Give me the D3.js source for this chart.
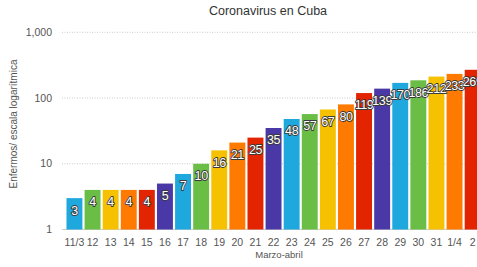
<!DOCTYPE html>
<meta charset="utf-8">
<style>
    body { margin: 0; background: #fff; }
    svg { display: block; font-family: "Liberation Sans", Arial, sans-serif; }
    .grid line { stroke: #ccc; }
    .barLabel { fill: #fff; stroke: #3a3a3a; stroke-width: 1.8px; paint-order: stroke; stroke-linejoin: round; letter-spacing: -0.4px; }
</style>
<svg width="477" height="267"></svg>
<script src="https://cdn.jsdelivr.net/npm/d3@7"></script>
<script>
    // datos
    var dias = ["11/3", "12", "13", "14", "15", "16", "17", "18", "19", "20", "21", "22",
        "23", "24", "25", "26", "27", "28", "29", "30", "31", "1/4", "2"];
    var enfermos = [3, 4, 4, 4, 4, 5, 7, 10, 16, 21, 25, 35, 48, 57, 67, 80, 119, 139, 170, 186, 212, 233, 269];
    var colores = ["#1fa8dd", "#6abd45", "#f5c100", "#fe7a00", "#e22400", "#4a38a6"];
    var yTicks = [1, 10, 100, 1000];

    var svg = d3.select("svg");

    var x = d3.scaleBand()
            .domain(dias)
            .range([65.4, 65.4 + dias.length * 18.1])
            .paddingInner(0.12)
            .paddingOuter(0.06);

    var y = d3.scaleLog()
            .domain([1, 1000])
            .range([229.5, 32.3]);

    // lineas de cuadricula
    svg.append("g")
            .attr("class", "grid")
            .selectAll("line")
            .data(yTicks)
            .enter().append("line")
            .attr("x1", 62)
            .attr("x2", 477)
            .attr("y1", function (d) { return y(d); })
            .attr("y2", function (d) { return y(d); })
            .style("stroke-dasharray", function (d) { return d == 1 ? null : "1,1.5"; });

    svg.append("g")
            .selectAll("text")
            .data(yTicks)
            .enter().append("text")
            .attr("x", 52)
            .attr("y", function (d) { return y(d); })
            .attr("dy", "0.35em")
            .attr("text-anchor", "end")
            .style("font-size", "10.5px")
            .style("fill", "#555")
            .text(d3.format(","));

    svg.append("g")
            .selectAll("rect")
            .data(enfermos)
            .enter().append("rect")
            .attr("x", function (d, i) { return x(dias[i]); })
            .attr("y", function (d) { return y(d); })
            .attr("width", x.bandwidth())
            .attr("height", function (d) { return y(1) - y(d); })
            .attr("fill", function (d, i) { return colores[i % colores.length]; });

    svg.append("g")
            .selectAll("text")
            .data(enfermos)
            .enter().append("text")
            .attr("class", "barLabel")
            .attr("x", function (d, i) { return x(dias[i]) + x.bandwidth() / 2; })
            .attr("y", function (d) { return y(d) + 12; })
            .attr("dy", "0.35em")
            .attr("text-anchor", "middle")
            .style("font-size", "12.5px")
            .text(function (d) { return d; });

    svg.append("g")
            .selectAll("text")
            .data(dias)
            .enter().append("text")
            .attr("x", function (d) { return x(d) + x.bandwidth() / 2; })
            .attr("y", 242)
            .attr("dy", "0.35em")
            .attr("text-anchor", "middle")
            .style("font-size", "10.5px")
            .style("fill", "#555")
            .text(function (d) { return d; });

    svg.append("text")
            .attr("x", 268)
            .attr("y", 15)
            .attr("text-anchor", "middle")
            .style("font-size", "12.5px")
            .style("fill", "#333")
            .text("Coronavirus en Cuba");

    svg.append("text")
            .attr("x", 279)
            .attr("y", 258)
            .attr("text-anchor", "middle")
            .style("font-size", "9.5px")
            .style("fill", "#555")
            .text("Marzo-abril");

    svg.append("text")
            .attr("transform", "translate(17,124) rotate(-90)")
            .attr("text-anchor", "middle")
            .style("font-size", "10px")
            .style("fill", "#555")
            .text("Enfermos/ escala logarítmica");
</script>
